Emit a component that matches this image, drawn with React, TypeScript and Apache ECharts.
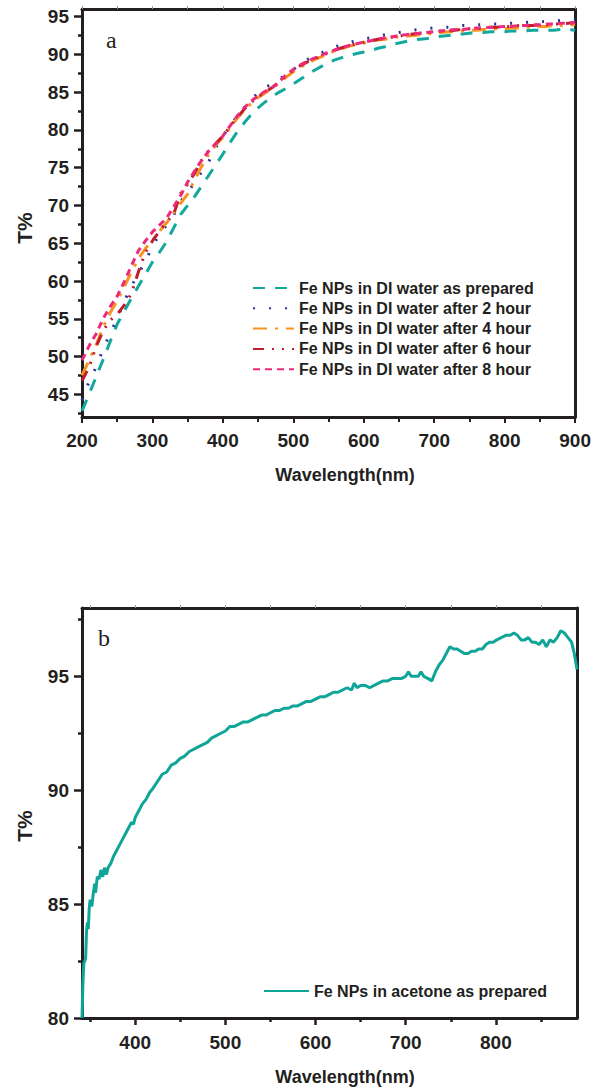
import React, { useEffect, useRef } from "react";
import * as echarts from "echarts";

const INK = "#231f20";
const SANS = "Liberation Sans, Arial, sans-serif";
const SERIF = "Liberation Serif, Times New Roman, serif";

// ---------- Panel a ----------
const wavelengthsA = [
  200, 210, 220, 230, 240, 250, 260, 270, 280, 290,
  300, 310, 320, 330, 340, 350, 360, 370, 380, 390,
  400, 410, 420, 430, 440, 450, 460, 470, 480, 490,
  500, 510, 520, 530, 540, 550, 560, 570, 580, 590,
  600, 610, 620, 630, 640, 650, 660, 670, 680, 690,
  700, 710, 720, 730, 740, 750, 760, 770, 780, 790,
  800, 810, 820, 830, 840, 850, 860, 870, 880, 890, 900,
];

const asPrepared = [
  42.8, 45.0, 47.3, 49.6, 52.0, 54.3, 56.0, 57.7, 59.3, 60.9,
  62.5, 63.8, 65.2, 67.0, 68.8, 70.0, 71.2, 72.6, 74.0, 75.4,
  76.8, 78.3, 79.7, 80.9, 82.0, 82.9, 83.7, 84.4, 85.0, 85.5,
  86.1, 86.7, 87.3, 87.9, 88.4, 88.9, 89.3, 89.6, 89.9, 90.1,
  90.3, 90.5, 90.8, 91.0, 91.3, 91.5, 91.7, 91.9, 92.0, 92.1,
  92.3, 92.4, 92.5, 92.6, 92.7, 92.8, 92.9, 92.9, 93.0, 93.0,
  93.0, 93.1, 93.1, 93.1, 93.2, 93.2, 93.2, 93.2, 93.3, 93.3, 93.2,
];

const after2h = [
  44.2, 46.7, 48.6, 51.0, 53.1, 55.0, 57.3, 59.3, 61.0, 62.6,
  64.6, 66.2, 67.4, 68.7, 70.5, 71.8, 73.0, 74.5, 75.8, 77.7,
  79.2, 80.5, 81.8, 82.9, 84.0, 84.9, 85.6, 86.1, 86.7, 87.3,
  88.0, 88.7, 89.3, 89.8, 90.2, 90.6, 91.0, 91.3, 91.6, 91.8,
  92.0, 92.2, 92.4, 92.6, 92.7, 92.9, 93.0, 93.2, 93.3, 93.4,
  93.5, 93.6, 93.6, 93.7, 93.8, 93.8, 93.9, 93.9, 94.0, 94.0,
  94.1, 94.1, 94.2, 94.2, 94.3, 94.3, 94.4, 94.4, 94.5, 94.5, 94.6,
];

const after4h = [
  47.5, 49.5, 51.5, 53.9, 55.8, 57.4, 59.2, 61.2, 62.9, 64.3,
  65.4, 66.6, 67.7, 69.0, 70.3, 71.5, 73.4, 75.2, 76.8, 78.0,
  79.0, 80.3, 81.5, 82.6, 83.5, 84.3, 84.9, 85.5, 86.2, 87.0,
  87.7, 88.3, 88.8, 89.3, 89.7, 90.1, 90.5, 90.8, 91.1, 91.3,
  91.5, 91.7, 91.9, 92.0, 92.2, 92.3, 92.4, 92.5, 92.6, 92.7,
  92.8, 92.9, 93.0, 93.0, 93.1, 93.2, 93.2, 93.3, 93.3, 93.4,
  93.4, 93.5, 93.5, 93.6, 93.6, 93.7, 93.7, 93.8, 93.8, 93.9, 93.9,
];

const after6h = [
  46.8, 48.6, 51.3, 53.4, 54.8, 55.6, 56.8, 58.3, 61.2, 63.8,
  65.3, 66.6, 67.8, 68.8, 71.6, 72.8, 74.3, 76.0, 77.3, 78.2,
  79.2, 80.4, 81.6, 82.7, 83.6, 84.4, 85.0, 85.6, 86.4, 87.2,
  87.9, 88.5, 89.0, 89.4, 89.8, 90.2, 90.6, 90.9, 91.2, 91.4,
  91.6, 91.8, 92.0, 92.1, 92.3, 92.4, 92.6, 92.7, 92.8, 92.9,
  93.0, 93.1, 93.1, 93.2, 93.3, 93.4, 93.4, 93.5, 93.6, 93.6,
  93.7, 93.7, 93.8, 93.8, 93.8, 93.9, 93.9, 94.0, 94.0, 94.1, 94.2,
];

const after8h = [
  49.5, 51.4, 53.0, 55.0, 56.6, 58.0, 59.9, 62.0, 64.0, 65.3,
  66.5, 67.4, 68.3, 69.8, 71.3, 73.1, 74.6, 76.0, 77.2, 78.2,
  79.2, 80.5, 81.8, 82.9, 83.8, 84.5, 85.1, 85.6, 86.4, 87.3,
  88.0, 88.6, 89.1, 89.5, 89.9, 90.3, 90.6, 90.9, 91.2, 91.4,
  91.6, 91.8, 92.0, 92.2, 92.3, 92.5, 92.6, 92.7, 92.8, 92.9,
  93.0, 93.1, 93.2, 93.3, 93.3, 93.4, 93.5, 93.5, 93.6, 93.6,
  93.7, 93.7, 93.8, 93.8, 93.9, 93.9, 94.0, 94.0, 94.1, 94.1, 94.2,
];

const seriesNamesA = [
  "Fe NPs in DI water as prepared",
  "Fe NPs in DI water after 2 hour",
  "Fe NPs in DI water after 4 hour",
  "Fe NPs in DI water after 6 hour",
  "Fe NPs in DI water after 8 hour",
];
const seriesValuesA = [asPrepared, after2h, after4h, after6h, after8h];
const seriesColorsA = ["#13a89e", "#2e3192", "#f7941d", "#be1e2d", "#ec2a7b"];
const seriesDashesA = [
  [12, 10],
  [2, 14],
  [14, 8, 3, 8],
  [11, 8, 2, 8, 2, 8],
  [7, 5],
];
const yTicksA = [45, 50, 55, 60, 65, 70, 75, 80, 85, 90, 95];
const yMinorTicksA = [42.5, 47.5, 52.5, 57.5, 62.5, 67.5, 72.5, 77.5, 82.5, 87.5, 92.5];

// ---------- Panel b ----------
const wavelengthsB = [
  341, 342, 343, 345, 346, 347, 348, 349, 350, 352, 353, 355, 356, 358, 360, 362, 364, 366, 368, 370,
  373, 376, 380, 384, 388, 392, 396, 398, 400, 404, 408, 412, 416, 420, 425, 430, 435, 440, 445, 450,
  455, 460, 465, 470, 475, 480, 485, 490, 495, 500, 505, 510, 515, 520, 525, 530, 535, 540, 545, 550,
  555, 560, 565, 570, 575, 580, 585, 590, 595, 600, 605, 610, 615, 620, 625, 630, 635, 640, 643, 646,
  650, 655, 660, 665, 670, 675, 680, 685, 690, 695, 700, 703, 706, 710, 714, 717, 720, 725, 729, 733,
  737, 741, 745, 749, 753, 757, 761, 765, 769, 773, 777, 781, 785, 789, 793, 797, 801, 806, 811, 816,
  820, 824, 828, 832, 836, 840, 844, 848, 852, 856, 860, 864, 868, 872, 876, 880, 884, 887, 890,
];

const acetone = [
  80.0, 81.5, 82.4, 82.6, 83.8, 84.2, 83.9, 84.8, 85.2, 84.9, 85.3, 85.9, 85.5, 86.2, 86.1, 86.5, 86.2, 86.6, 86.3, 86.6,
  86.8, 87.1, 87.4, 87.7, 88.0, 88.3, 88.6, 88.5, 88.8, 89.1, 89.4, 89.6, 89.9, 90.1, 90.4, 90.7, 90.8, 91.1, 91.2, 91.4,
  91.5, 91.7, 91.8, 91.9, 92.0, 92.1, 92.3, 92.4, 92.5, 92.6, 92.8, 92.8, 92.9, 93.0, 93.0, 93.1, 93.2, 93.3, 93.3, 93.4,
  93.5, 93.5, 93.6, 93.6, 93.7, 93.7, 93.8, 93.9, 93.9, 94.0, 94.1, 94.1, 94.2, 94.3, 94.3, 94.4, 94.5, 94.4, 94.7, 94.5,
  94.6, 94.6, 94.5, 94.6, 94.7, 94.8, 94.8, 94.9, 94.9, 94.9, 95.0, 95.2, 95.0, 95.0, 95.0, 95.2, 95.0, 94.9, 94.8, 95.2,
  95.5, 95.7, 96.0, 96.3, 96.2, 96.2, 96.1, 96.0, 96.0, 96.1, 96.1, 96.2, 96.2, 96.4, 96.5, 96.5, 96.6, 96.7, 96.8, 96.8,
  96.9, 96.8, 96.6, 96.6, 96.7, 96.5, 96.5, 96.4, 96.6, 96.3, 96.6, 96.5, 96.7, 97.0, 96.9, 96.7, 96.5, 96.0, 95.3,
];
const seriesNameB = "Fe NPs in acetone as prepared";
const xTicksB = [400, 500, 600, 700, 800];
const xMinorTicksB = [350, 450, 550, 650, 750, 850];
const xTopTicksB = [350, 400, 450, 500, 550, 600, 650, 700, 750, 800, 850];
const yTicksB = [80, 85, 90, 95];
const yMinorTicksB = [82.5, 87.5, 92.5, 97.5];

const labelStyle = {
  fontSize: 19,
  fontWeight: "bold" as const,
  color: INK,
  fontFamily: SANS,
};

function frameLine(show = true) {
  return { show, onZero: false, lineStyle: { color: INK, width: 3 } };
}

export default function App() {
  const ref = useRef<HTMLDivElement>(null);

  useEffect(() => {
    if (!ref.current) return;
    const chart = echarts.init(ref.current, undefined, { renderer: "svg" });

    const seriesA = seriesNamesA.map((name, i) => ({
      name,
      type: "line",
      xAxisIndex: 0,
      yAxisIndex: 0,
      symbol: "none",
      showSymbol: false,
      data: wavelengthsA.map((w, j) => [w, seriesValuesA[i][j]]),
      lineStyle: { color: seriesColorsA[i], width: 3, type: seriesDashesA[i] },
      itemStyle: { color: seriesColorsA[i] },
      z: 3 + i,
    }));

    const seriesB = {
      name: seriesNameB,
      type: "line",
      xAxisIndex: 2,
      yAxisIndex: 3,
      symbol: "none",
      showSymbol: false,
      data: wavelengthsB.map((w, j) => [w, acetone[j]]),
      lineStyle: { color: "#0fa598", width: 3 },
      itemStyle: { color: "#0fa598" },
    };

    const legendText = { fontSize: 16, fontWeight: "bold", color: INK, fontFamily: SANS };

    chart.setOption({
      animation: false,
      backgroundColor: "#ffffff",
      grid: [
        { left: 82, top: 9, width: 495, height: 408 },
        { left: 82, top: 608, width: 495, height: 410 },
      ],
      xAxis: [
        {
          gridIndex: 0, type: "value", position: "bottom", min: 200, max: 900, interval: 100,
          axisLine: frameLine(),
          axisTick: { show: true, inside: false, length: 6, lineStyle: { color: INK, width: 2 } },
          minorTick: { show: true, splitNumber: 2, length: 5, lineStyle: { color: INK, width: 2 } },
          axisLabel: { ...labelStyle, margin: 14 },
          splitLine: { show: false },
          minorSplitLine: { show: false },
        },
        {
          gridIndex: 0, type: "value", position: "top", min: 200, max: 900, interval: 50,
          axisLine: frameLine(),
          axisTick: { show: true, length: 3, lineStyle: { color: "#9a9a9a", width: 1 } },
          axisLabel: { show: false },
          splitLine: { show: false },
        },
        {
          gridIndex: 1, type: "value", position: "bottom", min: 341, max: 890,
          axisLine: frameLine(),
          axisTick: { show: true, length: 7, customValues: xTicksB, lineStyle: { color: INK, width: 2.5 } },
          axisLabel: { ...labelStyle, margin: 15, customValues: xTicksB },
          splitLine: { show: false },
        },
        {
          gridIndex: 1, type: "value", position: "bottom", min: 341, max: 890,
          axisLine: { show: false },
          axisTick: { show: true, length: 4, customValues: xMinorTicksB, lineStyle: { color: INK, width: 2.5 } },
          axisLabel: { show: false },
          splitLine: { show: false },
        },
        {
          gridIndex: 1, type: "value", position: "top", min: 341, max: 890,
          axisLine: frameLine(),
          axisTick: { show: true, length: 3, customValues: xTopTicksB, lineStyle: { color: "#9a9a9a", width: 1 } },
          axisLabel: { show: false },
          splitLine: { show: false },
        },
      ],
      yAxis: [
        {
          gridIndex: 0, type: "value", position: "left", min: 42, max: 96,
          axisLine: frameLine(),
          axisTick: { show: true, length: 8, customValues: yTicksA, lineStyle: { color: INK, width: 2.5 } },
          axisLabel: { ...labelStyle, margin: 13, customValues: yTicksA },
          splitLine: { show: false },
        },
        {
          gridIndex: 0, type: "value", position: "left", min: 42, max: 96,
          axisLine: { show: false },
          axisTick: { show: true, length: 4, customValues: yMinorTicksA, lineStyle: { color: INK, width: 2.5 } },
          axisLabel: { show: false },
          splitLine: { show: false },
        },
        {
          gridIndex: 0, type: "value", position: "right", min: 42, max: 96,
          axisLine: frameLine(),
          axisTick: { show: false },
          axisLabel: { show: false },
          splitLine: { show: false },
        },
        {
          gridIndex: 1, type: "value", position: "left", min: 80, max: 98,
          axisLine: frameLine(),
          axisTick: { show: true, length: 8, customValues: yTicksB, lineStyle: { color: INK, width: 2.5 } },
          axisLabel: { ...labelStyle, margin: 13, customValues: yTicksB },
          splitLine: { show: false },
        },
        {
          gridIndex: 1, type: "value", position: "left", min: 80, max: 98,
          axisLine: { show: false },
          axisTick: { show: true, length: 4, customValues: yMinorTicksB, lineStyle: { color: INK, width: 2.5 } },
          axisLabel: { show: false },
          splitLine: { show: false },
        },
        {
          gridIndex: 1, type: "value", position: "right", min: 80, max: 98,
          axisLine: frameLine(),
          axisTick: { show: false },
          axisLabel: { show: false },
          splitLine: { show: false },
        },
      ],
      legend: [
        {
          data: seriesNamesA,
          orient: "vertical",
          left: 252,
          top: 280,
          padding: 0,
          itemWidth: 41,
          itemHeight: 16,
          itemGap: 4.3,
          itemStyle: { opacity: 0 },
          textStyle: legendText,
        },
        {
          data: [seriesNameB],
          orient: "vertical",
          left: 263,
          top: 983,
          padding: 0,
          itemWidth: 45,
          itemHeight: 16,
          itemStyle: { opacity: 0 },
          textStyle: legendText,
        },
      ],
      graphic: [
        {
          type: "text", left: 106, top: 28,
          style: { text: "a", fontSize: 24, fontFamily: SERIF, fill: INK },
        },
        {
          type: "text", left: 98, top: 626,
          style: { text: "b", fontSize: 24, fontFamily: SERIF, fill: INK },
        },
        {
          type: "text", x: 24, y: 228, rotation: Math.PI / 2,
          style: { text: "T%", fontSize: 21, fontWeight: "bold", fontFamily: SANS, fill: INK, align: "center", verticalAlign: "middle" },
        },
        {
          type: "text", x: 24, y: 826, rotation: Math.PI / 2,
          style: { text: "T%", fontSize: 21, fontWeight: "bold", fontFamily: SANS, fill: INK, align: "center", verticalAlign: "middle" },
        },
        {
          type: "text", x: 345, y: 475,
          style: { text: "Wavelength(nm)", fontSize: 18, fontWeight: "bold", fontFamily: SANS, fill: INK, align: "center", verticalAlign: "middle" },
        },
        {
          type: "text", x: 345, y: 1077,
          style: { text: "Wavelength(nm)", fontSize: 18, fontWeight: "bold", fontFamily: SANS, fill: INK, align: "center", verticalAlign: "middle" },
        },
      ],
      series: [...seriesA, seriesB],
    });

    return () => chart.dispose();
  }, []);

  return (
    <div
      ref={ref}
      style={{ position: "absolute", left: 0, top: 0, width: 594, height: 1090, background: "#fff" }}
    />
  );
}
